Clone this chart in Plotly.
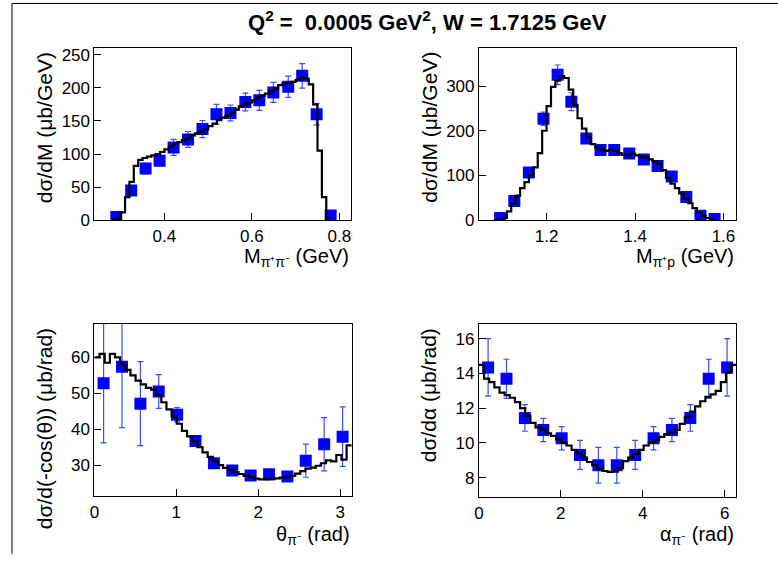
import numpy as np
import plotly.graph_objects as go

# ---------------- data ----------------
# Panel 1: M(pi+ pi-)
m_pipi_x = [0.290, 0.324, 0.357, 0.389, 0.421, 0.454, 0.487, 0.519, 0.551, 0.585,
            0.617, 0.649, 0.683, 0.715, 0.748, 0.780]
m_pipi_y = [5, 45, 78, 90, 110, 122, 137.6, 160, 162, 178.5, 181, 193, 201.6, 218, 160, 7]
m_pipi_err = [2, 5, 8, 8, 12, 12, 13, 15, 12, 13.5, 15, 15, 16, 18.5, 16, 2]
m_pipi_hist_range = (0.28, 0.78)
m_pipi_hist = [0, 2, 12, 35, 58, 82, 91, 94, 96, 98,
               100, 103, 107, 111, 115, 118, 121, 124, 128, 131,
               134, 137, 142, 146, 151, 155, 158, 162, 167, 172,
               175, 178, 181, 185, 188, 191, 195, 199, 204, 207,
               207, 209, 212, 215, 214, 205, 175, 105, 35, 3]

# Panel 2: M(pi+ p)
m_pip_x = [1.095, 1.127, 1.160, 1.193, 1.225, 1.256, 1.290, 1.322, 1.353, 1.387,
           1.420, 1.451, 1.483, 1.516, 1.548, 1.580]
m_pip_y = [5, 43, 107, 227, 325, 265, 183, 157, 157, 149, 136, 121, 98, 52, 10, 3]
m_pip_err = [2, 6, 8, 15, 22, 20, 8, 6, 6, 6, 6, 6, 6, 5, 3, 2]
m_pip_hist_range = (1.08, 1.58)
m_pip_hist = [0, 0, 5, 20, 38, 55, 72, 85, 100, 118,
              150, 200, 255, 298, 312, 322, 318, 292, 258, 228,
              205, 185, 170, 162, 158, 155, 157, 155, 150, 146,
              145, 149, 145, 142, 140, 136, 132, 126, 112, 95,
              82, 72, 60, 48, 38, 27, 18, 10, 5, 1]

# Panel 3: theta(pi-)
theta_x = [0.112, 0.337, 0.561, 0.785, 1.010, 1.234, 1.459, 1.683, 1.907, 2.132,
           2.356, 2.580, 2.805, 3.030]
theta_y = [52.8, 57.4, 47.1, 50.5, 44.0, 36.7, 30.5, 28.5, 27.1, 27.4, 26.8, 31.2, 35.8, 37.9]
theta_err = [16.6, 17.0, 11.7, 4.7, 2.0, 1.5, 1.2, 1.0, 1.0, 1.0, 1.0, 4.6, 7.4, 8.3]
theta_hist_range = (0.0, np.pi)
theta_hist = [60, 61, 58.5, 61, 60, 58, 56.5, 55, 53.5, 52.5,
              51.5, 51, 49.5, 47.5, 45.5, 43.5, 41.5, 39.5, 38, 36.5,
              35, 33.5, 32.3, 31, 30, 29.2, 28.6, 28, 27.5, 27,
              26.6, 26.2, 26, 26, 26.1, 26.3, 26.5, 26.6, 27, 27.6,
              28.3, 29, 29.3, 29.8, 30.5, 31.3, 31, 32.8, 31.5, 35.5]

# Panel 4: alpha(pi-)
alpha_x = [0.224, 0.673, 1.122, 1.571, 2.020, 2.468, 2.917, 3.366, 3.815, 4.264,
           4.712, 5.161, 5.610, 6.059]
alpha_y = [14.35, 13.69, 11.44, 10.74, 10.27, 9.31, 8.71, 8.71, 9.31, 10.27,
           10.74, 11.44, 13.69, 14.35]
alpha_err = [1.66, 1.13, 0.77, 0.67, 0.67, 0.83, 1.03, 1.03, 0.83, 0.67,
             0.67, 0.77, 1.13, 1.66]
alpha_hist_range = (0.0, 2 * np.pi)
alpha_hist = [14.5, 13.7, 13.5, 13.2, 12.9, 12.75, 12.6, 12.35, 12.0, 11.55,
              11.15, 10.9, 10.75, 10.55, 10.4, 10.2, 10.0, 9.85, 9.6, 9.4,
              9.15, 8.9, 8.7, 8.5, 8.38, 8.33, 8.35, 8.55, 8.95, 9.15,
              9.35, 9.6, 9.85, 10.0, 10.15, 10.35, 10.5, 10.6, 10.75, 11.1,
              11.5, 11.8, 12.1, 12.4, 12.65, 12.8, 13.0, 13.5, 14.05, 14.5]

title_text = "Q<sup>2</sup> =\u00a0 0.0005 GeV<sup>2</sup>, W = 1.7125 GeV"

# ---------------- figure ----------------
W, H = 778, 564
FONT = "Liberation Sans, Arial, Helvetica, sans-serif"
BLUE = "#0000ff"
ERRC = "#3a4dff"

panels = [
    dict(px=m_pipi_x, py=m_pipi_y, pe=m_pipi_err, hr=m_pipi_hist_range, hv=m_pipi_hist,
         xr=[0.240, 0.826], yr=[0, 260], xt=[0.4, 0.6, 0.8], xtt=["0.4", "0.6", "0.8"],
         ydt=50, box=(90, 348, 47, 223), xty=246,
         xtitle="M<sub>π⁺π⁻</sub> (GeV)", ytitle="dσ/dM (μb/GeV)"),
    dict(px=m_pip_x, py=m_pip_y, pe=m_pip_err, hr=m_pip_hist_range, hv=m_pip_hist,
         xr=[1.047, 1.629], yr=[0, 385], xt=[1.2, 1.4, 1.6], xtt=["1.2", "1.4", "1.6"],
         ydt=100, box=(477, 736, 47, 223), xty=246,
         xtitle="M<sub>π⁺p</sub> (GeV)", ytitle="dσ/dM (μb/GeV)"),
    dict(px=theta_x, py=theta_y, pe=theta_err, hr=theta_hist_range, hv=theta_hist,
         xr=[0, np.pi], yr=[21.3, 69.3], xt=[0, 1, 2, 3], xtt=["0", "1", "2", "3"],
         ydt=10, box=(90, 349, 329, 505), xty=530,
         xtitle="θ<sub>π⁻</sub> (rad)", ytitle="dσ/d(-cos(θ)) (μb/rad)"),
    dict(px=alpha_x, py=alpha_y, pe=alpha_err, hr=alpha_hist_range, hv=alpha_hist,
         xr=[0, 2 * np.pi], yr=[6.87, 16.85], xt=[0, 2, 4, 6], xtt=["0", "2", "4", "6"],
         ydt=2, box=(477, 736, 329, 506), xty=530,
         xtitle="α<sub>π⁻</sub> (rad)", ytitle="dσ/dα (μb/rad)"),
]

fig = go.Figure()
annotations = []
layout_axes = {}

for i, p in enumerate(panels, start=1):
    xa = "x" if i == 1 else f"x{i}"
    ya = "y" if i == 1 else f"y{i}"
    x0, x1, y0, y1 = p["box"]
    nb = len(p["hv"])
    edges = np.linspace(p["hr"][0], p["hr"][1], nb + 1)
    hy = list(p["hv"]) + [p["hv"][-1]]

    fig.add_trace(go.Scatter(
        x=p["px"], y=p["py"], mode="markers", xaxis=xa, yaxis=ya,
        marker=dict(symbol="square", size=12, color=BLUE, line=dict(width=0)),
        error_y=dict(type="data", array=p["pe"], visible=True, color=ERRC,
                     thickness=1.2, width=3),
        showlegend=False, hoverinfo="skip"))
    fig.add_trace(go.Scatter(
        x=edges, y=hy, mode="lines", line_shape="hv", xaxis=xa, yaxis=ya,
        line=dict(color="black", width=2.2), showlegend=False, hoverinfo="skip"))

    common = dict(showline=True, linecolor="black", linewidth=1, mirror=True,
                  ticks="inside", ticklen=7, tickwidth=1, tickcolor="black",
                  showgrid=False, zeroline=False,
                  tickfont=dict(family=FONT, size=17, color="black"))
    xkey = "xaxis" if i == 1 else f"xaxis{i}"
    ykey = "yaxis" if i == 1 else f"yaxis{i}"
    layout_axes[xkey] = dict(common, domain=[x0 / W, x1 / W], range=p["xr"],
                             anchor=ya, tickvals=p["xt"], ticktext=p["xtt"])
    layout_axes[ykey] = dict(common, domain=[1 - y1 / H, 1 - y0 / H], range=p["yr"],
                             anchor=xa, dtick=p["ydt"], tick0=0)

    # x title: right aligned at the axis end
    annotations.append(dict(text=p["xtitle"], xref="paper", yref="paper",
                            x=x1 / W, y=1 - p["xty"] / H, xanchor="right", yanchor="top",
                            showarrow=False, font=dict(family=FONT, size=20, color="black")))
    # y title: rotated, aligned at the top of the axis
    annotations.append(dict(text=p["ytitle"], xref="paper", yref="paper",
                            x=(x0 - 50) / W, y=1 - (y0 + 2) / H, xanchor="center", yanchor="top",
                            textangle=-90, showarrow=False,
                            font=dict(family=FONT, size=21, color="black")))

annotations.append(dict(text=title_text, xref="paper", yref="paper",
                        x=425 / W, y=1 - 19 / H, xanchor="center", yanchor="middle",
                        showarrow=False,
                        font=dict(family=FONT, size=22, color="black", weight="bold")))

shapes = [
    dict(type="line", xref="paper", yref="paper", x0=7 / W, x1=7 / W, y0=0, y1=1 - 1.5 / H,
         line=dict(color="black", width=1)),
    dict(type="line", xref="paper", yref="paper", x0=7 / W, x1=1, y0=1 - 1.5 / H, y1=1 - 1.5 / H,
         line=dict(color="black", width=1)),
]

fig.update_layout(
    width=W, height=H, margin=dict(l=0, r=0, t=0, b=0),
    paper_bgcolor="white", plot_bgcolor="white",
    annotations=annotations, shapes=shapes,
    font=dict(family=FONT, color="black"),
    **layout_axes,
)

fig.write_html(
    "out.html",
    config={"displayModeBar": False, "staticPlot": True},
    post_script=(
        "document.documentElement.style.margin='0px';"
        "document.documentElement.style.overflow='hidden';"
        "document.body.style.margin='0px';"
        "document.body.style.padding='0px';"
        "document.body.style.overflow='hidden';"
        "window.scrollTo(0,0);"
    ),
)
